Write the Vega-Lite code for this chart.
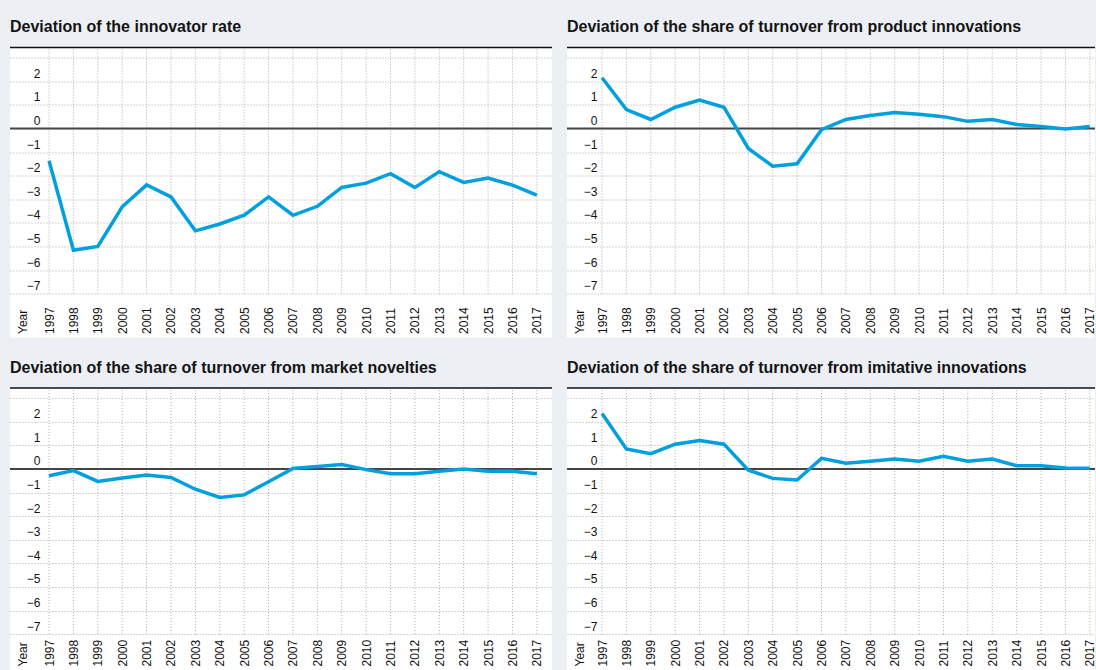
{
  "$schema": "https://vega.github.io/schema/vega-lite/v6.json",
  "background": "#ecf0f4",
  "padding": {"left": 9, "top": 18.5, "right": 0, "bottom": 0},
  "config": {
    "view": {"fill": "white", "stroke": null},
    "font": "Liberation Sans",
    "title": {"anchor": "start", "frame": "group", "font": "Liberation Sans", "fontSize": 16, "fontWeight": "bold", "color": "#141414", "offset": 8.5, "baseline": "alphabetic"},
    "axis": {"labelFont": "Liberation Sans", "labelFontSize": 12, "labelColor": "#111111", "titleFont": "Liberation Sans", "titleFontSize": 12, "titleFontWeight": "normal", "titleColor": "#111111"},
    "axisX": {"grid": false, "domain": false, "ticks": false, "tickSize": 0, "labelAngle": -90, "labelAlign": "left", "labelBaseline": "middle", "labelPadding": -4, "labelFlush": false, "labelOverlap": false, "titleAngle": -90, "titleAlign": "left", "titleBaseline": "middle", "titleX": 12, "titleY": -4},
    "axisY": {"grid": true, "gridColor": "#aaaaaa", "gridDash": [1, 2], "gridWidth": 1, "domain": false, "ticks": false, "tickSize": 0, "labelAlign": "right", "labelBaseline": "alphabetic", "labelPadding": -30, "labelOffset": -4, "labelOverlap": false}
  },
  "datasets": {
    "d": [
      {"panel": "inn", "year": 1997, "value": -1.37}, {"panel": "inn", "year": 1998, "value": -5.16}, {"panel": "inn", "year": 1999, "value": -5.0},
      {"panel": "inn", "year": 2000, "value": -3.32}, {"panel": "inn", "year": 2001, "value": -2.39}, {"panel": "inn", "year": 2002, "value": -2.9},
      {"panel": "inn", "year": 2003, "value": -4.34}, {"panel": "inn", "year": 2004, "value": -4.05}, {"panel": "inn", "year": 2005, "value": -3.68},
      {"panel": "inn", "year": 2006, "value": -2.9}, {"panel": "inn", "year": 2007, "value": -3.68}, {"panel": "inn", "year": 2008, "value": -3.3},
      {"panel": "inn", "year": 2009, "value": -2.5}, {"panel": "inn", "year": 2010, "value": -2.32}, {"panel": "inn", "year": 2011, "value": -1.92},
      {"panel": "inn", "year": 2012, "value": -2.5}, {"panel": "inn", "year": 2013, "value": -1.83}, {"panel": "inn", "year": 2014, "value": -2.29},
      {"panel": "inn", "year": 2015, "value": -2.1}, {"panel": "inn", "year": 2016, "value": -2.4}, {"panel": "inn", "year": 2017, "value": -2.83},

      {"panel": "prod", "year": 1997, "value": 2.15}, {"panel": "prod", "year": 1998, "value": 0.8}, {"panel": "prod", "year": 1999, "value": 0.38},
      {"panel": "prod", "year": 2000, "value": 0.9}, {"panel": "prod", "year": 2001, "value": 1.2}, {"panel": "prod", "year": 2002, "value": 0.9},
      {"panel": "prod", "year": 2003, "value": -0.85}, {"panel": "prod", "year": 2004, "value": -1.6}, {"panel": "prod", "year": 2005, "value": -1.5},
      {"panel": "prod", "year": 2006, "value": -0.05}, {"panel": "prod", "year": 2007, "value": 0.38}, {"panel": "prod", "year": 2008, "value": 0.55},
      {"panel": "prod", "year": 2009, "value": 0.68}, {"panel": "prod", "year": 2010, "value": 0.6}, {"panel": "prod", "year": 2011, "value": 0.5},
      {"panel": "prod", "year": 2012, "value": 0.3}, {"panel": "prod", "year": 2013, "value": 0.38}, {"panel": "prod", "year": 2014, "value": 0.17},
      {"panel": "prod", "year": 2015, "value": 0.08}, {"panel": "prod", "year": 2016, "value": -0.02}, {"panel": "prod", "year": 2017, "value": 0.08},

      {"panel": "mkt", "year": 1997, "value": -0.29}, {"panel": "mkt", "year": 1998, "value": -0.07}, {"panel": "mkt", "year": 1999, "value": -0.53},
      {"panel": "mkt", "year": 2000, "value": -0.38}, {"panel": "mkt", "year": 2001, "value": -0.26}, {"panel": "mkt", "year": 2002, "value": -0.36},
      {"panel": "mkt", "year": 2003, "value": -0.86}, {"panel": "mkt", "year": 2004, "value": -1.21}, {"panel": "mkt", "year": 2005, "value": -1.1},
      {"panel": "mkt", "year": 2006, "value": -0.54}, {"panel": "mkt", "year": 2007, "value": 0.02}, {"panel": "mkt", "year": 2008, "value": 0.1},
      {"panel": "mkt", "year": 2009, "value": 0.19}, {"panel": "mkt", "year": 2010, "value": -0.03}, {"panel": "mkt", "year": 2011, "value": -0.2},
      {"panel": "mkt", "year": 2012, "value": -0.2}, {"panel": "mkt", "year": 2013, "value": -0.1}, {"panel": "mkt", "year": 2014, "value": 0.0},
      {"panel": "mkt", "year": 2015, "value": -0.1}, {"panel": "mkt", "year": 2016, "value": -0.1}, {"panel": "mkt", "year": 2017, "value": -0.2},

      {"panel": "imi", "year": 1997, "value": 2.35}, {"panel": "imi", "year": 1998, "value": 0.85}, {"panel": "imi", "year": 1999, "value": 0.65},
      {"panel": "imi", "year": 2000, "value": 1.05}, {"panel": "imi", "year": 2001, "value": 1.2}, {"panel": "imi", "year": 2002, "value": 1.05},
      {"panel": "imi", "year": 2003, "value": -0.05}, {"panel": "imi", "year": 2004, "value": -0.4}, {"panel": "imi", "year": 2005, "value": -0.47},
      {"panel": "imi", "year": 2006, "value": 0.45}, {"panel": "imi", "year": 2007, "value": 0.24}, {"panel": "imi", "year": 2008, "value": 0.33},
      {"panel": "imi", "year": 2009, "value": 0.42}, {"panel": "imi", "year": 2010, "value": 0.33}, {"panel": "imi", "year": 2011, "value": 0.54},
      {"panel": "imi", "year": 2012, "value": 0.33}, {"panel": "imi", "year": 2013, "value": 0.42}, {"panel": "imi", "year": 2014, "value": 0.14},
      {"panel": "imi", "year": 2015, "value": 0.14}, {"panel": "imi", "year": 2016, "value": 0.04}, {"panel": "imi", "year": 2017, "value": 0.03}
    ]
  },
  "spacing": 21.5,
  "vconcat": [
    {
      "spacing": 13,
      "hconcat": [
        {
          "width": 542, "height": 290,
          "title": "Deviation of the innovator rate",
          "data": {"name": "d"},
          "transform": [{"filter": "datum.panel == 'inn'"}],
          "layer": [
            {"mark": {"type": "rule", "stroke": "#aaaaaa", "strokeWidth": 1, "strokeDash": [1, 2]},
             "encoding": {"x": {"field": "year", "type": "quantitative", "scale": {"domain": [1995.4, 2017.62], "nice": false, "zero": false}, "axis": {"values": [1997,1998,1999,2000,2001,2002,2003,2004,2005,2006,2007,2008,2009,2010,2011,2012,2013,2014,2015,2016,2017], "format": "d", "title": "Year"}},
                          "y": {"datum": -7, "type": "quantitative", "scale": {"domain": [-8.86, 3.43], "nice": false, "zero": false}, "axis": {"values": [-7,-6,-5,-4,-3,-2,-1,0,1,2,3], "labelExpr": "datum.value == 3 ? '' : datum.label", "title": null}},
                          "y2": {"datum": 3.43}}},
            {"data": {"values": [{}]}, "mark": {"type": "rule", "stroke": "#444444", "strokeWidth": 2},
             "encoding": {"y": {"datum": 0, "type": "quantitative", "scale": {"domain": [-8.86, 3.43], "nice": false, "zero": false}, "axis": {"values": [-7,-6,-5,-4,-3,-2,-1,0,1,2,3], "labelExpr": "datum.value == 3 ? '' : datum.label", "title": null}}}},
            {"data": {"values": [{}]}, "mark": {"type": "rule", "stroke": "#111111", "strokeWidth": 1.5},
             "encoding": {"y": {"datum": 3.43, "type": "quantitative", "scale": {"domain": [-8.86, 3.43], "nice": false, "zero": false}, "axis": {"values": [-7,-6,-5,-4,-3,-2,-1,0,1,2,3], "labelExpr": "datum.value == 3 ? '' : datum.label", "title": null}}}},
            {"mark": {"type": "line", "stroke": "#009fe0", "strokeWidth": 3.5, "strokeJoin": "miter"},
             "encoding": {
               "x": {"field": "year", "type": "quantitative", "scale": {"domain": [1995.4, 2017.62], "nice": false, "zero": false}, "axis": {"values": [1997,1998,1999,2000,2001,2002,2003,2004,2005,2006,2007,2008,2009,2010,2011,2012,2013,2014,2015,2016,2017], "format": "d", "title": "Year"}},
               "y": {"field": "value", "type": "quantitative", "scale": {"domain": [-8.86, 3.43], "nice": false, "zero": false}, "axis": {"values": [-7,-6,-5,-4,-3,-2,-1,0,1,2,3], "labelExpr": "datum.value == 3 ? '' : datum.label", "title": null}}
             }}
          ]
        },
        {
          "width": 528, "height": 290,
          "title": "Deviation of the share of turnover from product innovations",
          "data": {"name": "d"},
          "transform": [{"filter": "datum.panel == 'prod'"}],
          "layer": [
            {"mark": {"type": "rule", "stroke": "#aaaaaa", "strokeWidth": 1, "strokeDash": [1, 2]},
             "encoding": {"x": {"field": "year", "type": "quantitative", "scale": {"domain": [1995.565, 2017.213], "nice": false, "zero": false}, "axis": {"values": [1997,1998,1999,2000,2001,2002,2003,2004,2005,2006,2007,2008,2009,2010,2011,2012,2013,2014,2015,2016,2017], "format": "d", "title": "Year"}},
                          "y": {"datum": -7, "type": "quantitative", "scale": {"domain": [-8.86, 3.43], "nice": false, "zero": false}, "axis": {"values": [-7,-6,-5,-4,-3,-2,-1,0,1,2,3], "labelExpr": "datum.value == 3 ? '' : datum.label", "title": null}},
                          "y2": {"datum": 3.43}}},
            {"data": {"values": [{}]}, "mark": {"type": "rule", "stroke": "#444444", "strokeWidth": 2},
             "encoding": {"y": {"datum": 0, "type": "quantitative", "scale": {"domain": [-8.86, 3.43], "nice": false, "zero": false}, "axis": {"values": [-7,-6,-5,-4,-3,-2,-1,0,1,2,3], "labelExpr": "datum.value == 3 ? '' : datum.label", "title": null}}}},
            {"data": {"values": [{}]}, "mark": {"type": "rule", "stroke": "#111111", "strokeWidth": 1.5},
             "encoding": {"y": {"datum": 3.43, "type": "quantitative", "scale": {"domain": [-8.86, 3.43], "nice": false, "zero": false}, "axis": {"values": [-7,-6,-5,-4,-3,-2,-1,0,1,2,3], "labelExpr": "datum.value == 3 ? '' : datum.label", "title": null}}}},
            {"mark": {"type": "line", "stroke": "#009fe0", "strokeWidth": 3.5, "strokeJoin": "miter"},
             "encoding": {
               "x": {"field": "year", "type": "quantitative", "scale": {"domain": [1995.565, 2017.213], "nice": false, "zero": false}, "axis": {"values": [1997,1998,1999,2000,2001,2002,2003,2004,2005,2006,2007,2008,2009,2010,2011,2012,2013,2014,2015,2016,2017], "format": "d", "title": "Year"}},
               "y": {"field": "value", "type": "quantitative", "scale": {"domain": [-8.86, 3.43], "nice": false, "zero": false}, "axis": {"values": [-7,-6,-5,-4,-3,-2,-1,0,1,2,3], "labelExpr": "datum.value == 3 ? '' : datum.label", "title": null}}
             }}
          ]
        }
      ]
    },
    {
      "spacing": 13,
      "hconcat": [
        {
          "width": 542, "height": 282,
          "title": "Deviation of the share of turnover from market novelties",
          "data": {"name": "d"},
          "transform": [{"filter": "datum.panel == 'mkt'"}],
          "layer": [
            {"mark": {"type": "rule", "stroke": "#aaaaaa", "strokeWidth": 1, "strokeDash": [1, 2]},
             "encoding": {"x": {"field": "year", "type": "quantitative", "scale": {"domain": [1995.4, 2017.62], "nice": false, "zero": false}, "axis": {"values": [1997,1998,1999,2000,2001,2002,2003,2004,2005,2006,2007,2008,2009,2010,2011,2012,2013,2014,2015,2016,2017], "format": "d", "title": "Year"}},
                          "y": {"datum": -7, "type": "quantitative", "scale": {"domain": [-8.52, 3.43], "nice": false, "zero": false}, "axis": {"values": [-7,-6,-5,-4,-3,-2,-1,0,1,2,3], "labelExpr": "datum.value == 3 ? '' : datum.label", "title": null}},
                          "y2": {"datum": 3.43}}},
            {"data": {"values": [{}]}, "mark": {"type": "rule", "stroke": "#444444", "strokeWidth": 2},
             "encoding": {"y": {"datum": 0, "type": "quantitative", "scale": {"domain": [-8.52, 3.43], "nice": false, "zero": false}, "axis": {"values": [-7,-6,-5,-4,-3,-2,-1,0,1,2,3], "labelExpr": "datum.value == 3 ? '' : datum.label", "title": null}}}},
            {"data": {"values": [{}]}, "mark": {"type": "rule", "stroke": "#111111", "strokeWidth": 1.5},
             "encoding": {"y": {"datum": 3.43, "type": "quantitative", "scale": {"domain": [-8.52, 3.43], "nice": false, "zero": false}, "axis": {"values": [-7,-6,-5,-4,-3,-2,-1,0,1,2,3], "labelExpr": "datum.value == 3 ? '' : datum.label", "title": null}}}},
            {"mark": {"type": "line", "stroke": "#009fe0", "strokeWidth": 3.5, "strokeJoin": "miter"},
             "encoding": {
               "x": {"field": "year", "type": "quantitative", "scale": {"domain": [1995.4, 2017.62], "nice": false, "zero": false}, "axis": {"values": [1997,1998,1999,2000,2001,2002,2003,2004,2005,2006,2007,2008,2009,2010,2011,2012,2013,2014,2015,2016,2017], "format": "d", "title": "Year"}},
               "y": {"field": "value", "type": "quantitative", "scale": {"domain": [-8.52, 3.43], "nice": false, "zero": false}, "axis": {"values": [-7,-6,-5,-4,-3,-2,-1,0,1,2,3], "labelExpr": "datum.value == 3 ? '' : datum.label", "title": null}}
             }}
          ]
        },
        {
          "width": 528, "height": 282,
          "title": "Deviation of the share of turnover from imitative innovations",
          "data": {"name": "d"},
          "transform": [{"filter": "datum.panel == 'imi'"}],
          "layer": [
            {"mark": {"type": "rule", "stroke": "#aaaaaa", "strokeWidth": 1, "strokeDash": [1, 2]},
             "encoding": {"x": {"field": "year", "type": "quantitative", "scale": {"domain": [1995.565, 2017.213], "nice": false, "zero": false}, "axis": {"values": [1997,1998,1999,2000,2001,2002,2003,2004,2005,2006,2007,2008,2009,2010,2011,2012,2013,2014,2015,2016,2017], "format": "d", "title": "Year"}},
                          "y": {"datum": -7, "type": "quantitative", "scale": {"domain": [-8.52, 3.43], "nice": false, "zero": false}, "axis": {"values": [-7,-6,-5,-4,-3,-2,-1,0,1,2,3], "labelExpr": "datum.value == 3 ? '' : datum.label", "title": null}},
                          "y2": {"datum": 3.43}}},
            {"data": {"values": [{}]}, "mark": {"type": "rule", "stroke": "#444444", "strokeWidth": 2},
             "encoding": {"y": {"datum": 0, "type": "quantitative", "scale": {"domain": [-8.52, 3.43], "nice": false, "zero": false}, "axis": {"values": [-7,-6,-5,-4,-3,-2,-1,0,1,2,3], "labelExpr": "datum.value == 3 ? '' : datum.label", "title": null}}}},
            {"data": {"values": [{}]}, "mark": {"type": "rule", "stroke": "#111111", "strokeWidth": 1.5},
             "encoding": {"y": {"datum": 3.43, "type": "quantitative", "scale": {"domain": [-8.52, 3.43], "nice": false, "zero": false}, "axis": {"values": [-7,-6,-5,-4,-3,-2,-1,0,1,2,3], "labelExpr": "datum.value == 3 ? '' : datum.label", "title": null}}}},
            {"mark": {"type": "line", "stroke": "#009fe0", "strokeWidth": 3.5, "strokeJoin": "miter"},
             "encoding": {
               "x": {"field": "year", "type": "quantitative", "scale": {"domain": [1995.565, 2017.213], "nice": false, "zero": false}, "axis": {"values": [1997,1998,1999,2000,2001,2002,2003,2004,2005,2006,2007,2008,2009,2010,2011,2012,2013,2014,2015,2016,2017], "format": "d", "title": "Year"}},
               "y": {"field": "value", "type": "quantitative", "scale": {"domain": [-8.52, 3.43], "nice": false, "zero": false}, "axis": {"values": [-7,-6,-5,-4,-3,-2,-1,0,1,2,3], "labelExpr": "datum.value == 3 ? '' : datum.label", "title": null}}
             }}
          ]
        }
      ]
    }
  ]
}
